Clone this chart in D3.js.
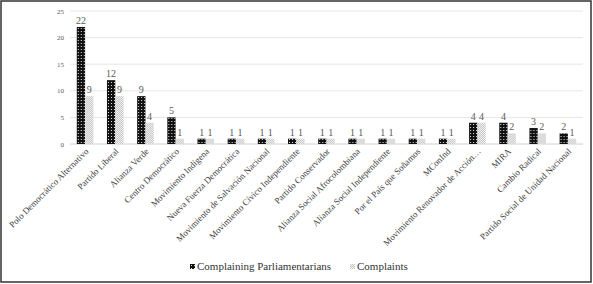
<!DOCTYPE html>
<html>
<head>
<meta charset="utf-8">
<script src="https://cdn.jsdelivr.net/npm/d3@7"></script>
<style>
  body { margin: 0; background: #fff; }
  svg { display: block; }
  text { font-family: 'Liberation Serif', 'DejaVu Serif', serif; }
</style>
</head>
<body>
<div id="viz"></div>
<script>
const width = 593;
const height = 284;
const margin = {top: 11, right: 10, bottom: 140, left: 70};

const categories = [
  'Polo Democrático  Alternativo', 'Partido Liberal', 'Alianza Verde', 'Centro Democrático',
  'Movimiento Indígena', 'Nueva Fuerza Democrática', 'Movimiento de Salvación Nacional',
  'Movimiento Cívico  Independiente', 'Partido Conservador', 'Alianza Social Afrocolombiana',
  'Alianza Social Independiente', 'Por el País que Soñamos', 'MConInd',
  'Movimiento Renovador de Acción…', 'MIRA', 'Cambio Radical', 'Partido Social de Unidad Nacional'
];
const parliamentarians = [22, 12, 9, 5, 1, 1, 1, 1, 1, 1, 1, 1, 1, 4, 4, 3, 2];
const complaints = [9, 9, 4, 1, 1, 1, 1, 1, 1, 1, 1, 1, 1, 4, 2, 2, 1];
const seriesNames = ['Complaining Parliamentarians', 'Complaints'];
const yTicks = [0, 5, 10, 15, 20, 25];

const svg = d3.select('#viz').append('svg')
  .attr('width', width)
  .attr('height', height);

// fill patterns for the two series
const defs = svg.append('defs');
const darkPat = defs.append('pattern')
  .attr('id', 'dark').attr('patternUnits', 'userSpaceOnUse')
  .attr('width', 3).attr('height', 3);
darkPat.append('rect').attr('width', 3).attr('height', 3).attr('fill', '#111');
darkPat.append('rect').attr('x', 1).attr('y', 1).attr('width', 1).attr('height', 1).attr('fill', '#e0e0e0');
const lightPat = defs.append('pattern')
  .attr('id', 'light').attr('patternUnits', 'userSpaceOnUse')
  .attr('width', 2).attr('height', 2);
lightPat.append('rect').attr('width', 2).attr('height', 2).attr('fill', '#f4f4f4');
lightPat.append('rect').attr('x', 0).attr('y', 0).attr('width', 1).attr('height', 1).attr('fill', '#c4c4c4');
lightPat.append('rect').attr('x', 1).attr('y', 1).attr('width', 1).attr('height', 1).attr('fill', '#c4c4c4');
const fills = ['url(#dark)', 'url(#light)'];

svg.append('rect')
  .attr('x', 1).attr('y', 1)
  .attr('width', width - 3).attr('height', height - 3)
  .attr('fill', 'none').attr('stroke', '#333').attr('stroke-width', 1.5);

const x0 = d3.scaleBand()
  .domain(categories)
  .range([margin.left, width - margin.right])
  .paddingInner(0.45)
  .paddingOuter(0.225);
const x1 = d3.scaleBand()
  .domain([0, 1])
  .range([0, x0.bandwidth()]);
const y = d3.scaleLinear()
  .domain([0, 25])
  .range([height - margin.bottom, margin.top]);

// gridlines
svg.append('g').selectAll('line').data(yTicks).join('line')
  .attr('x1', margin.left).attr('x2', width - margin.right)
  .attr('y1', d => y(d)).attr('y2', d => y(d))
  .attr('stroke', d => d === 0 ? '#d0d0d0' : '#e6e6e6')
  .attr('stroke-width', 1);

svg.append('g').selectAll('text').data(yTicks).join('text')
  .attr('x', 64).attr('y', d => y(d) + 2.5)
  .attr('text-anchor', 'end')
  .attr('font-size', 7).attr('fill', '#595959')
  .text(d => d);

const rows = categories.map((c, i) => ({cat: c, vals: [parliamentarians[i], complaints[i]]}));

const groups = svg.append('g').selectAll('g').data(rows).join('g')
  .attr('transform', d => `translate(${x0(d.cat)},0)`);

groups.selectAll('rect').data(d => d.vals.map((v, k) => ({k, v}))).join('rect')
  .attr('x', d => x1(d.k))
  .attr('y', d => y(d.v))
  .attr('width', x1.bandwidth())
  .attr('height', d => y(0) - y(d.v))
  .attr('fill', d => fills[d.k]);

groups.selectAll('text').data(d => d.vals.map((v, k) => ({k, v}))).join('text')
  .attr('x', d => x1(d.k) + x1.bandwidth() / 2)
  .attr('y', d => y(d.v) - 3)
  .attr('text-anchor', 'middle')
  .attr('font-size', 10).attr('fill', '#595959')
  .text(d => d.v);

// category labels
svg.append('g').selectAll('text').data(categories).join('text')
  .attr('transform', d => `translate(${x0(d) + x0.bandwidth() / 2 + 4},${y(0) + 8}) rotate(-45)`)
  .attr('text-anchor', 'end')
  .attr('font-size', 9).attr('fill', '#404040')
  .text(d => d);

// legend
const legend = svg.append('g').attr('transform', 'translate(190,270)');
const legX = [0, 160];
seriesNames.forEach((name, i) => {
  legend.append('rect')
    .attr('x', legX[i]).attr('y', -6)
    .attr('width', 5).attr('height', 5)
    .attr('fill', fills[i]);
  legend.append('text')
    .attr('x', legX[i] + 7).attr('y', 0)
    .attr('font-size', 11).attr('fill', '#333')
    .text(name);
});
</script>
</body>
</html>
